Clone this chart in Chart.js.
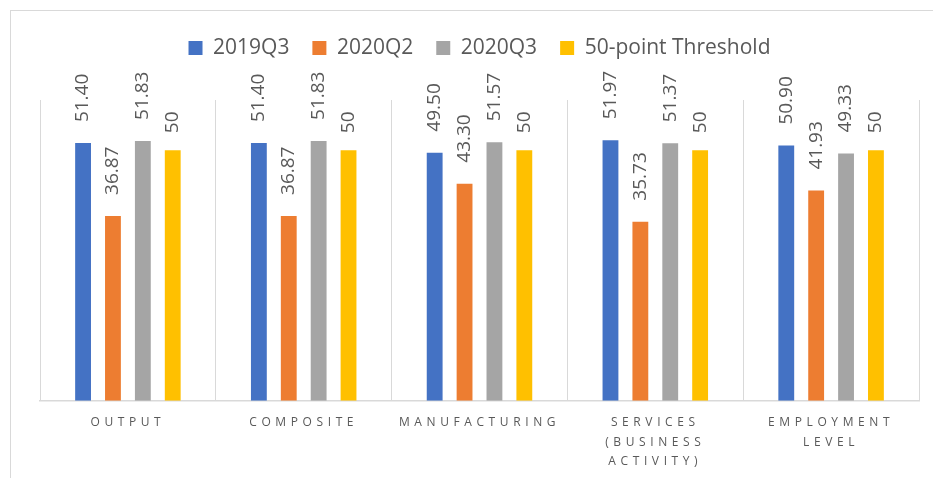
<!DOCTYPE html>
<html>
<head>
<meta charset="utf-8">
<script src="https://cdn.jsdelivr.net/npm/chart.js@4.4.1/dist/chart.umd.min.js"></script>
<style>
  html, body { margin: 0; padding: 0; background: #fff; }
  body { width: 933px; height: 478px; position: relative; overflow: hidden; }
  .frame { position: absolute; left: 10px; top: 10px; width: 940px; height: 480px;
           border-left: 1px solid #d9d9d9; border-top: 1px solid #d9d9d9; }
  #wrap { position: absolute; left: 0; top: 0; width: 933px; height: 493px; }
</style>
</head>
<body>
<div class="frame"></div>
<div id="wrap"><canvas id="pmiChart"></canvas></div>
<script>
// Categories and series
const categories = [
    'OUTPUT',
    'COMPOSITE',
    'MANUFACTURING',
    ['SERVICES', '(BUSINESS', 'ACTIVITY)'],
    ['EMPLOYMENT', 'LEVEL']
];
const q3_2019 = [51.40, 51.40, 49.50, 51.97, 50.90];
const q2_2020 = [36.87, 36.87, 43.30, 35.73, 41.93];
const q3_2020 = [51.83, 51.83, 51.57, 51.37, 49.33];
const threshold = [50, 50, 50, 50, 50];

const FONT = '"Open Sans", Lato, sans-serif';
const TEXT = '#595959';

// rotated value labels above each bar
const barLabels = {
    id: 'barLabels',
    afterDatasetsDraw(chart) {
        const ctx = chart.ctx;
        ctx.save();
        ctx.font = '19px ' + FONT;
        ctx.fillStyle = TEXT;
        ctx.textAlign = 'left';
        ctx.textBaseline = 'middle';
        chart.data.datasets.forEach((ds, i) => {
            const meta = chart.getDatasetMeta(i);
            meta.data.forEach((bar, j) => {
                const v = ds.data[j];
                const txt = ds.decimals ? v.toFixed(ds.decimals) : String(v);
                ctx.save();
                ctx.translate(bar.x, bar.y - ds.labelGap);
                ctx.rotate(-Math.PI / 2);
                ctx.fillText(txt, 0, 0);
                ctx.restore();
            });
        });
        ctx.restore();
        // x tick labels are drawn after this (ticks.z = 1), spaced out like the original
        ctx.letterSpacing = '4.6px';
    },
    afterDraw(chart) {
        chart.ctx.letterSpacing = '0px';
    }
};

Chart.defaults.font.family = FONT;
Chart.defaults.color = TEXT;

new Chart(document.getElementById('pmiChart'), {
    type: 'bar',
    data: {
        labels: categories,
        datasets: [
            { label: '2019Q3', data: q3_2019, backgroundColor: '#4472C4', decimals: 2, labelGap: 21 },
            { label: '2020Q2', data: q2_2020, backgroundColor: '#ED7D31', decimals: 2, labelGap: 21 },
            { label: '2020Q3', data: q3_2020, backgroundColor: '#A5A5A5', decimals: 2, labelGap: 21 },
            { label: '50-point Threshold', data: threshold, backgroundColor: '#FFC000', decimals: 0, labelGap: 17 }
        ]
    },
    options: {
        responsive: true,
        maintainAspectRatio: false,
        animation: false,
        categoryPercentage: 0.68,
        barPercentage: 0.53,
        layout: {
            padding: { left: 40, right: 14, top: 14.5, bottom: 9.5 }
        },
        plugins: {
            legend: {
                position: 'top',
                labels: {
                    boxWidth: 14,
                    boxHeight: 14,
                    padding: 23,
                    color: TEXT,
                    font: { size: 21, family: FONT }
                }
            },
            // empty spacer between legend and plot
            subtitle: {
                display: true,
                text: '',
                weight: 500,
                padding: 0,
                font: { size: 10, lineHeight: '31.5px' }
            },
            tooltip: { enabled: false }
        },
        scales: {
            x: {
                grid: {
                    display: true,
                    offset: true,
                    drawTicks: false,
                    color: '#d9d9d9',
                    lineWidth: 1
                },
                border: { display: true, color: '#d9d9d9', width: 1.5 },
                ticks: {
                    z: 1,
                    padding: 12,
                    color: TEXT,
                    maxRotation: 0,
                    autoSkip: false,
                    font: { size: 12, family: FONT, lineHeight: 1.63 }
                }
            },
            y: {
                display: false,
                min: 0,
                max: 60
            }
        }
    },
    plugins: [barLabels]
});
</script>
</body>
</html>
